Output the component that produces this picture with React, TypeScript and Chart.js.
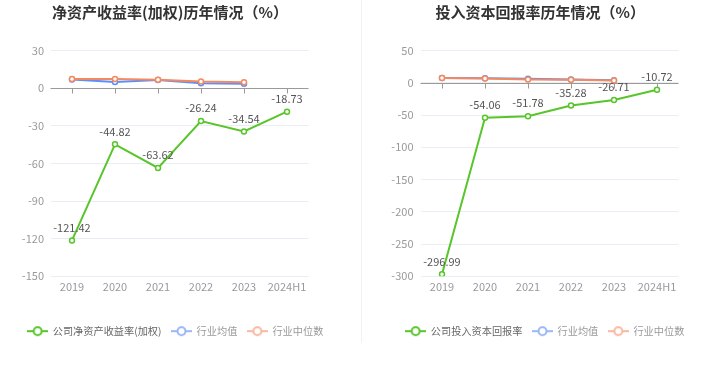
import React, { useEffect, useRef } from "react";
import { Chart, registerables } from "chart.js";

Chart.register(...registerables);

const categories = ["2019", "2020", "2021", "2022", "2023", "2024H1"];

// Left: 净资产收益率(加权)
const roeCompany = [-121.42, -44.82, -63.62, -26.24, -34.54, -18.73];
const roeIndustryAvg = [6.8, 4.9, 6.5, 3.8, 3.5, null];
const roeIndustryMedian = [7.3, 7.3, 6.6, 5.2, 4.6, null];
const roeTicks = { min: -150, max: 30, step: 30 };

// Right: 投入资本回报率
const roicCompany = [-296.99, -54.06, -51.78, -35.28, -26.71, -10.72];
const roicIndustryAvg = [7.4, 6.9, 6.3, 5.0, 4.0, null];
const roicIndustryMedian = [7.2, 6.7, 5.2, 4.6, 3.6, null];
const roicTicks = { min: -300, max: 50, step: 50 };

const FONT = '"Noto Sans CJK SC", "Noto Sans", sans-serif';
const GREEN = "#58c52a";
const BLUE = "#5b8ff9";
const ORANGE = "#f4895f";
const BLUE_LIGHT = "#9ab7f7";
const ORANGE_LIGHT = "#f8b9a2";

function makeIcon(color: string) {
  const c = document.createElement("canvas");
  c.width = 21;
  c.height = 12;
  const ctx = c.getContext("2d")!;
  ctx.strokeStyle = color;
  ctx.lineWidth = 2;
  ctx.beginPath();
  ctx.moveTo(0, 6);
  ctx.lineTo(21, 6);
  ctx.stroke();
  ctx.beginPath();
  ctx.arc(10.5, 6, 4, 0, Math.PI * 2);
  ctx.fillStyle = "#fff";
  ctx.fill();
  ctx.stroke();
  return c;
}

interface PanelProps {
  title: string;
  titleX: number;
  companyLabel: string;
  company: number[];
  avg: (number | null)[];
  median: (number | null)[];
  ticks: { min: number; max: number; step: number };
  width: number;
  padLeft: number;
  padRight: number;
  yWidth: number;
  rightWidth: number;
  tickPad: number;
}

function Panel(p: PanelProps) {
  const ref = useRef<HTMLCanvasElement>(null);
  useEffect(() => {
    const icons = [makeIcon(GREEN), makeIcon(BLUE_LIGHT), makeIcon(ORANGE_LIGHT)];
    const textColors = ["#666", "#999", "#999"];

    const titlePlugin = {
      id: "customTitle",
      afterDraw(chart: any) {
        const ctx = chart.ctx;
        ctx.save();
        ctx.font = `bold 15px ${FONT}`;
        ctx.fillStyle = "#333";
        ctx.textAlign = "center";
        ctx.textBaseline = "middle";
        ctx.fillText(p.title, p.titleX, 12);
        ctx.restore();
      },
    };

    const zeroAxisPlugin = {
      id: "zeroAxis",
      beforeDatasetsDraw(chart: any) {
        const { ctx, chartArea, scales } = chart;
        const y0 = Math.round(scales.y.getPixelForValue(0)) + 0.5;
        ctx.save();
        ctx.strokeStyle = "#9a9a9a";
        ctx.lineWidth = 1;
        ctx.beginPath();
        ctx.moveTo(chartArea.left, y0);
        ctx.lineTo(chartArea.right, y0);
        categories.forEach((_, i) => {
          const x = Math.round(scales.x.getPixelForValue(i)) + 0.5;
          ctx.moveTo(x, y0);
          ctx.lineTo(x, y0 + 5);
        });
        ctx.stroke();
        ctx.restore();
      },
    };

    const labelPlugin = {
      id: "valueLabels",
      afterDatasetsDraw(chart: any) {
        const ctx = chart.ctx;
        const meta = chart.getDatasetMeta(0);
        ctx.save();
        ctx.font = `11px ${FONT}`;
        ctx.fillStyle = "#555";
        ctx.textAlign = "center";
        ctx.textBaseline = "middle";
        meta.data.forEach((pt: any, i: number) => {
          const v = p.company[i];
          ctx.fillText(v.toFixed(2), pt.x, pt.y - 13);
        });
        ctx.restore();
      },
    };

    const pointCommon = {
      pointRadius: 2.5,
      pointHoverRadius: 2.5,
      pointBorderWidth: 1.5,
      pointBackgroundColor: "#fff",
      borderWidth: 2,
      tension: 0,
    };

    const chart = new Chart(ref.current!, {
      type: "line",
      data: {
        labels: categories,
        datasets: [
          {
            label: p.companyLabel,
            data: p.company,
            borderColor: GREEN,
            pointBorderColor: GREEN,
            order: 0,
            ...pointCommon,
          },
          {
            label: "行业均值",
            data: p.avg,
            borderColor: BLUE,
            pointBorderColor: BLUE,
            order: 2,
            ...pointCommon,
          },
          {
            label: "行业中位数",
            data: p.median,
            borderColor: ORANGE,
            pointBorderColor: ORANGE,
            order: 1,
            ...pointCommon,
          },
        ] as any,
      },
      options: {
        animation: false,
        responsive: false,
        maintainAspectRatio: false,
        layout: { padding: { top: 50.5, left: p.padLeft, right: p.padRight, bottom: 41.75 } },
        font: { family: FONT },
        plugins: {
          title: { display: false },
          tooltip: { enabled: false },
          legend: {
            display: true,
            position: "bottom",
            labels: {
              usePointStyle: true,
              pointStyleWidth: 20,
              padding: 10,
              font: { size: 10.2, family: FONT },
              generateLabels: (chart: any) =>
                chart.data.datasets.map((ds: any, i: number) => ({
                  text: ds.label,
                  fillStyle: "#fff",
                  strokeStyle: ds.borderColor,
                  pointStyle: icons[i],
                  fontColor: textColors[i],
                  hidden: false,
                  datasetIndex: i,
                  lineWidth: 0,
                })),
            },
          },
        },
        scales: {
          x: {
            type: "category",
            offset: true,
            grid: { display: false, drawTicks: false },
            border: { display: false },
            ticks: { color: "#999", font: { size: 11, family: FONT }, padding: 4, maxRotation: 0, autoSkip: false },
            afterFit: (s: any) => {
              s.height = 39.75;
            },
          },
          y: {
            type: "linear",
            position: "left",
            min: p.ticks.min,
            max: p.ticks.max,
            grid: { color: "#e9edf5", drawTicks: false },
            border: { display: false },
            ticks: { stepSize: p.ticks.step, color: "#999", font: { size: 11, family: FONT }, padding: p.tickPad },
            afterFit: (s: any) => {
              s.width = p.yWidth;
            },
          },
          yR: {
            type: "linear",
            position: "right",
            display: true,
            grid: { display: false, drawTicks: false },
            border: { display: false },
            ticks: { display: false },
            afterFit: (s: any) => {
              s.width = p.rightWidth;
            },
          },
        },
      } as any,
      plugins: [titlePlugin, zeroAxisPlugin, labelPlugin],
    });
    return () => chart.destroy();
  }, []);
  return <canvas ref={ref} width={p.width} height={388} style={{ display: "block", width: p.width, height: 388 }} />;
}

export default function App() {
  return (
    <div style={{ position: "absolute", left: 0, top: 0, width: 719, height: 388, background: "#fff", overflow: "hidden" }}>
      <div style={{ position: "absolute", left: 0, top: 0 }}>
        <Panel
          title="净资产收益率(加权)历年情况（%）"
          titleX={170}
          companyLabel="公司净资产收益率(加权)"
          company={roeCompany}
          avg={roeIndustryAvg}
          median={roeIndustryMedian}
          ticks={roeTicks}
          width={361}
          padLeft={0}
          padRight={10}
          yWidth={50.5}
          rightWidth={42.5}
          tickPad={6.5}
        />
      </div>
      <div style={{ position: "absolute", left: 361, top: 0, width: 1, height: 343, background: "#f2f2f2" }} />
      <div style={{ position: "absolute", left: 362, top: 0 }}>
        <Panel
          title="投入资本回报率历年情况（%）"
          titleX={178.3}
          companyLabel="公司投入资本回报率"
          company={roicCompany}
          avg={roicIndustryAvg}
          median={roicIndustryMedian}
          ticks={roicTicks}
          width={357}
          padLeft={9}
          padRight={0}
          yWidth={49.5}
          rightWidth={40.5}
          tickPad={7}
        />
      </div>
    </div>
  );
}
